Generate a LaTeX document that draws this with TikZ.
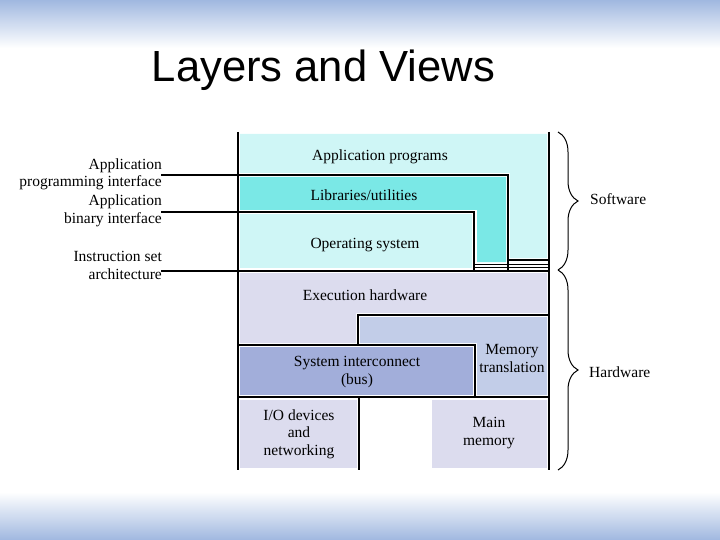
\documentclass[tikz,border=0pt]{standalone}
\usepackage{fontspec}
\setmainfont{Liberation Serif}
\newfontfamily\titlefont{Liberation Sans}
\usetikzlibrary{decorations.pathreplacing}
\definecolor{bandblue}{HTML}{A0B8E0}
\definecolor{swlight}{HTML}{CFF6F6}
\definecolor{swmid}{HTML}{7AE8E6}
\definecolor{hwlight}{HTML}{DCDCEE}
\definecolor{hwmid}{HTML}{C2CDE8}
\definecolor{hwdark}{HTML}{A2AEDA}
\tikzset{
  lbl/.style={inner sep=0pt, font=\fontsize{15.5}{17.3}\selectfont, align=center},
  sidelbl/.style={inner sep=0pt, font=\fontsize{15.5}{17.5}\selectfont, align=right, anchor=base east},
  ifline/.style={line width=2.7pt, line cap=rect},
  thinline/.style={line width=1.3pt},
  frameline/.style={line width=1.5pt},
  bracestyle/.style={decorate, decoration={brace, amplitude=20pt}, line width=1pt}
}
\begin{document}
\begin{tikzpicture}[x=1pt,y=-1pt]
\useasboundingbox (0,0) rectangle (720,540);
% background bands
\shade[top color=bandblue, bottom color=white] (0,0) rectangle (720,48);
\shade[top color=white, bottom color=bandblue] (0,492) rectangle (720,540);
% title
\node[inner sep=0pt, anchor=base, font=\titlefont\fontsize{43.6}{50}\selectfont] (title) at (323.5,82) {Layers and Views};

% fills
\fill[swlight] (240,134) -- (547,134) -- (547,258) -- (510,258) -- (510,173) -- (240,173) -- cycle;
\fill[swmid] (240,177) -- (506,177) -- (506,262) -- (477,262) -- (477,210) -- (240,210) -- cycle;
\fill[swlight] (240,214) -- (472,214) -- (472,268) -- (240,268) -- cycle;
\fill[hwlight] (240,273) -- (547,273) -- (547,313) -- (356,313) -- (356,343) -- (240,343) -- cycle;
\fill[hwmid] (360,317) -- (547,317) -- (547,395) -- (477,395) -- (477,343) -- (360,343) -- cycle;
\fill[hwdark] (240,347) -- (473,347) -- (473,395) -- (240,395) -- cycle;
\fill[hwlight] (240,400) rectangle (357,468);
\fill[hwlight] (432,400) rectangle (547,468);

% frame lines
\draw[frameline] (238,132) -- (238,470);
\draw[frameline] (549,132) -- (549,470);
% hardware division lines
\draw[thinline] (549,315) -- (358,315) -- (358,345);
\draw[thinline] (238,345) -- (475,345) -- (475,397);
\draw[thinline] (238,397) -- (549,397);
\draw[thinline] (359,397) -- (359,470);

% side labels
\node[sidelbl] (api) at (162,187) {Application\\programming interface};
\node[sidelbl] (abi) at (162,223) {Application\\binary interface};
\node[sidelbl] (isa) at (162,279) {Instruction set\\architecture};
\coordinate (apiL) at (162,175);
\coordinate (abiL) at (162,212);
\coordinate (isaL) at (162,271);
\coordinate (apiC) at (508,175);
\coordinate (abiC) at (474,212);
\coordinate (apiB) at (508,271);
\coordinate (abiB) at (474,271);
\coordinate (isaR) at (549,271);

% interface lines
\draw[ifline] (apiL) -- (apiC) -- (apiB);
\draw[ifline] (abiL) -- (abiC) -- (abiB);
\draw[ifline] (isaL) -- (isaR);
\draw[thinline] (508,260) -- (549,260);
\draw[thinline] (474,264.5) -- (549,264.5);
\draw[thinline] (474,267.5) -- (549,267.5);

% box labels
\node[lbl, anchor=base] (app) at (380,161) {Application programs};
\node[lbl, anchor=base] (lib) at (364,201) {Libraries/utilities};
\node[lbl, anchor=base] (os) at (365,248) {Operating system};
\node[lbl, anchor=base] (exec) at (365,300) {Execution hardware};
\node[lbl, anchor=base] (bus) at (357,384) {System interconnect\\(bus)};
\node[lbl, anchor=base] (mmu) at (512,372) {Memory\\translation};
\node[lbl, anchor=base] (io) at (299,455) {I/O devices\\and\\networking};
\node[lbl, anchor=base] (mem) at (489,445) {Main\\memory};

% braces
\draw[bracestyle] (558,132) -- (558,270);
\draw[bracestyle] (558,270) -- (558,470);
\node[lbl, anchor=base west] (sw) at (590,205) {Software};
\node[lbl, anchor=base west] (hw) at (589,377) {Hardware};
\end{tikzpicture}
\end{document}
